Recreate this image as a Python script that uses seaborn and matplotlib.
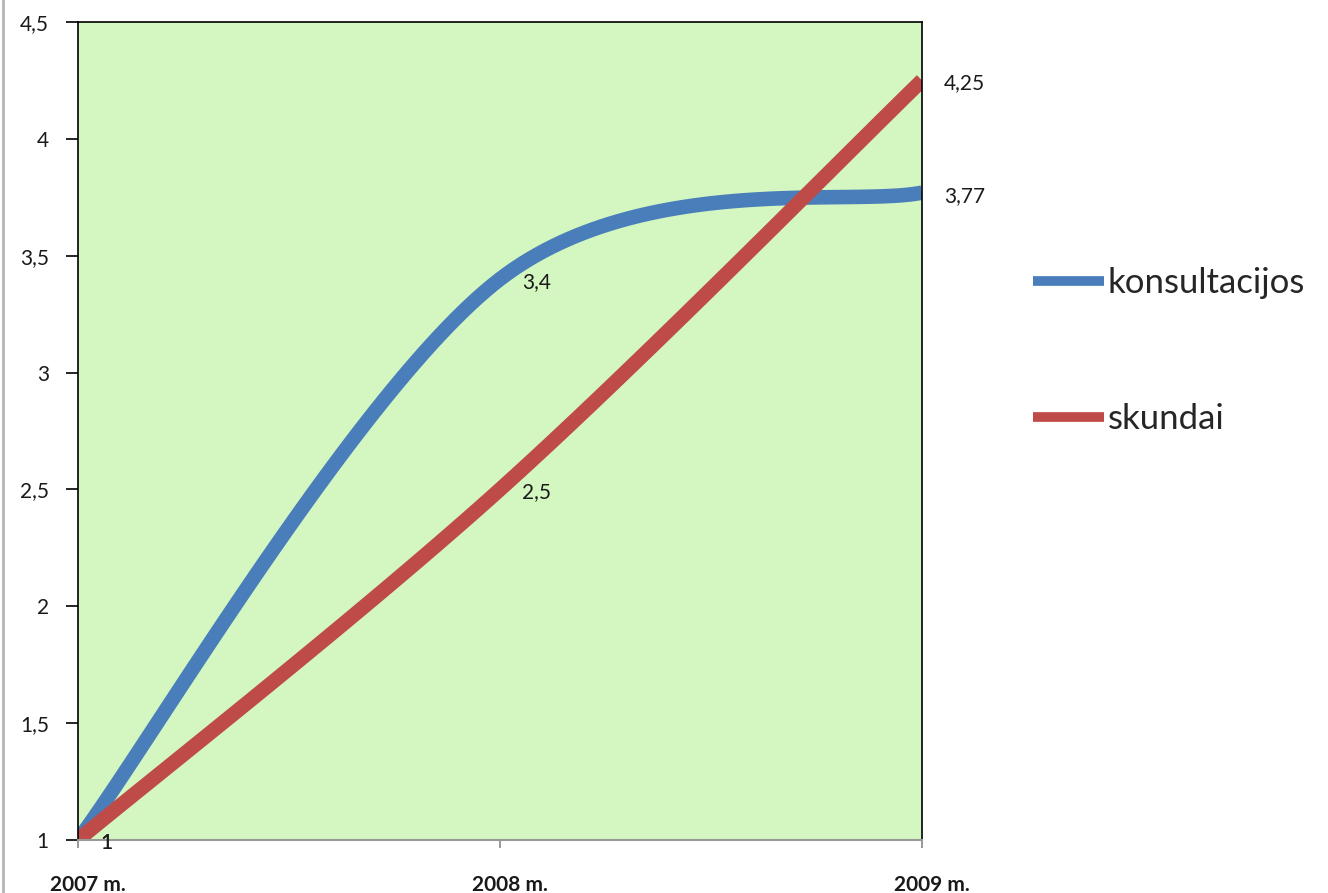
import numpy as np
import pandas as pd
import matplotlib
matplotlib.use("Agg")
import matplotlib.pyplot as plt
import matplotlib.transforms as mtransforms
from matplotlib.lines import Line2D
import seaborn as sns

# chart data
years = ["2007 m.", "2008 m.", "2009 m."]
konsultacijos = [1, 3.4, 3.77]
skundai = [1, 2.5, 4.25]
value_labels_k = ["1", "3,4", "3,77"]
value_labels_s = ["1", "2,5", "4,25"]
y_ticks = [1, 1.5, 2, 2.5, 3, 3.5, 4, 4.5]
y_tick_labels = ["1", "1,5", "2", "2,5", "3", "3,5", "4", "4,5"]

BLUE = "#4a7ebb"
RED = "#be4b48"
GREEN_BG = "#d4f7c1"


def excel_smooth(ys, n=60):
    """Excel-style smoothed line: cubic Bezier through the points."""
    xs = np.arange(len(ys), dtype=float)
    pts = np.column_stack([xs, np.asarray(ys, dtype=float)])
    out = []
    for i in range(len(pts) - 1):
        p_prev = pts[max(i - 1, 0)]
        p0, p1 = pts[i], pts[i + 1]
        p_next = pts[min(i + 2, len(pts) - 1)]
        c1 = p0 + (p1 - p_prev) / 6
        c2 = p1 - (p_next - p0) / 6
        t = np.linspace(0, 1, n)[:, None]
        seg = ((1 - t) ** 3) * p0 + 3 * ((1 - t) ** 2) * t * c1 + 3 * (1 - t) * t ** 2 * c2 + t ** 3 * p1
        if i > 0:
            seg = seg[1:]
        out.append(seg)
    out = np.vstack(out)
    return out[:, 0], out[:, 1]


sns.set_style("white")
plt.rcParams["font.family"] = ["Lato", "DejaVu Sans"]

fig = plt.figure(figsize=(13.28, 8.93), dpi=100)
ax = fig.add_axes([78 / 1328, 1 - 840 / 893, (922 - 78) / 1328, (840 - 22) / 893])
ax.set_facecolor(GREEN_BG)

for vals, color, name in [(konsultacijos, BLUE, "konsultacijos"), (skundai, RED, "skundai")]:
    sx, sy = excel_smooth(vals)
    df = pd.DataFrame({"x": sx, "y": sy})
    sns.lineplot(data=df, x="x", y="y", color=color, linewidth=10.5, sort=False,
                 estimator=None, label=name, ax=ax, solid_capstyle="butt")

# data labels
for vals, labels in [(konsultacijos, value_labels_k), (skundai, value_labels_s)]:
    for i, (v, lab) in enumerate(zip(vals, labels)):
        ax.annotate(lab, (i, v), xytext=(22, -3), textcoords="offset pixels",
                    ha="left", va="center", fontsize=15, color="#1a1a1a",
                    annotation_clip=False)

ax.set_xlim(0, 2)
ax.set_ylim(1, 4.5)
ax.set_xticks(range(len(years)))
ax.set_xticklabels(years, fontsize=15, fontweight="bold", color="#1a1a1a")
ax.set_yticks(y_ticks)
ax.set_yticklabels(y_tick_labels, fontsize=15, color="#1a1a1a")
ax.set_xlabel("")
ax.set_ylabel("")

ax.tick_params(axis="y", direction="out", length=9, width=1.2, color="black", pad=12, left=True)
ax.tick_params(axis="x", direction="out", length=6, width=1.2, color="#888888", pad=19, bottom=True)

offset = mtransforms.ScaledTranslation(10 / 100, 0, fig.dpi_scale_trans)
for lbl in ax.get_xticklabels():
    lbl.set_transform(lbl.get_transform() + offset)

for side in ["left", "top", "right"]:
    ax.spines[side].set_color("black")
    ax.spines[side].set_linewidth(1.2)
ax.spines["bottom"].set_color("#999999")
ax.spines["bottom"].set_linewidth(1.5)

leg = ax.legend(loc="upper left", bbox_to_anchor=(1033 / 1328, 1 - 267 / 893),
                bbox_transform=fig.transFigure, frameon=False, fontsize=25,
                handlelength=2.05, handletextpad=0.1, labelspacing=3.0,
                borderaxespad=0, borderpad=0)
for line in leg.get_lines():
    line.set_linewidth(7)

# chart area border on the left
fig.add_artist(Line2D([3 / 1328, 3 / 1328], [0, 1], transform=fig.transFigure,
                      color="#b5b5b5", linewidth=2))

fig.savefig("out.png", dpi=100)
